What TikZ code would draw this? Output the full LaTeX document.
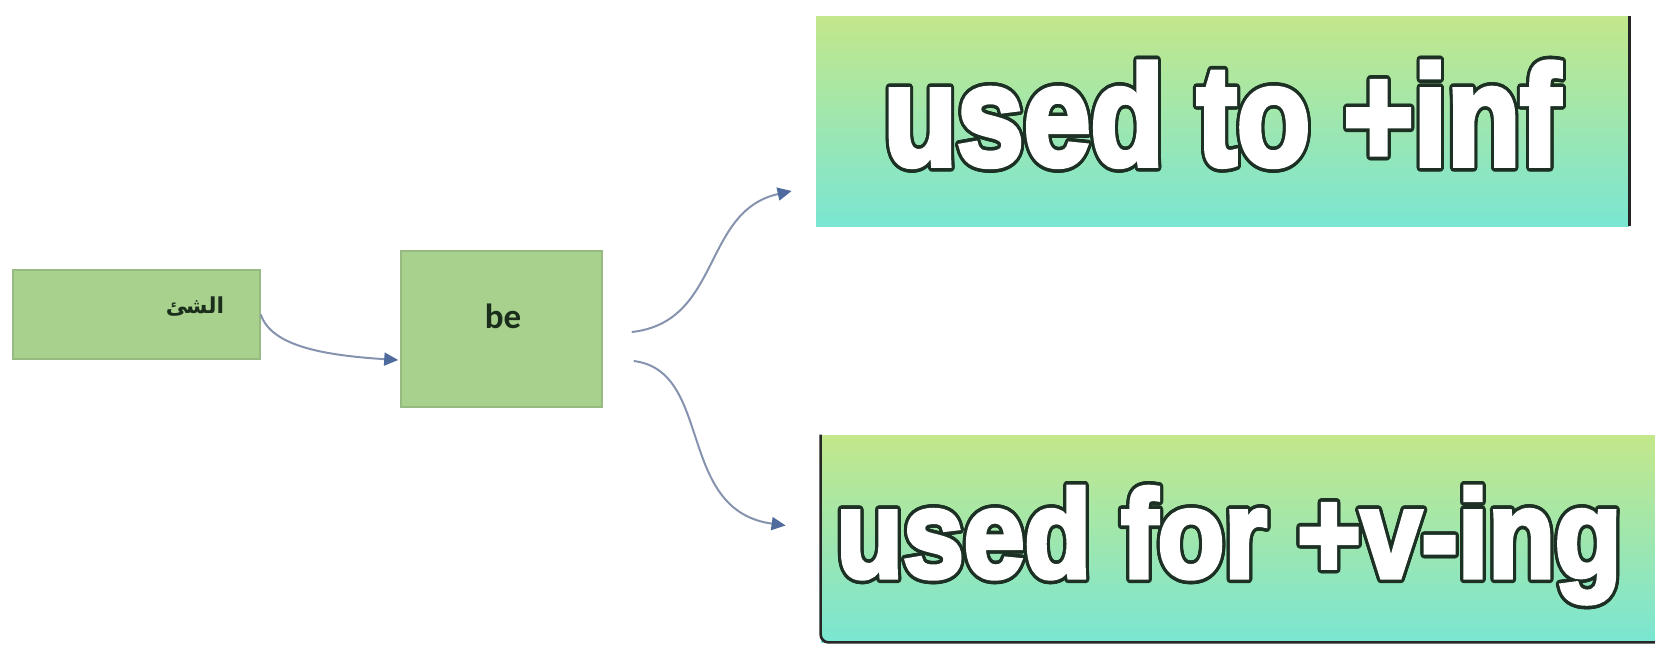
\documentclass[tikz,border=0pt]{standalone}
\usepackage{fontspec}
\usepackage{graphicx}
\usepackage{contour}
\usetikzlibrary{arrows.meta,calc}
\newfontfamily\bigfont[FakeBold=4]{Liberation Sans Bold}
\newfontfamily\arabicfont[Script=Arabic]{DejaVu Sans}
\newfontfamily\befont{Carlito}
\TeXXeTstate=1
\contournumber{20}
\contourlength{1.8pt}
\definecolor{smallfill}{HTML}{A9D18E}
\definecolor{smalledge}{HTML}{97B982}
\definecolor{bigtop}{HTML}{C3E78B}
\definecolor{bigbot}{HTML}{7AE6D2}
\definecolor{outl}{HTML}{1C3024}
\definecolor{linec}{HTML}{8693AE}
\definecolor{tipc}{HTML}{4F6A9C}
\definecolor{darktext}{HTML}{1B2E1B}
\tikzset{
  smallbox/.style={draw=smalledge, line width=0.8pt, fill=smallfill, inner sep=0pt},
  bigbox/.style={inner sep=0pt, top color=bigtop, bottom color=bigbot, draw=none},
  conn/.style={draw=linec, line width=1pt, -{Triangle[length=7pt,width=6.5pt,color=tipc,fill=tipc]}},
  edgeline/.style={draw=black!85, line width=1.3pt},
  bigtext/.style={inner sep=0pt, anchor=base, text=white}
}
\begin{document}
\begin{tikzpicture}[x=0.5pt,y=-0.5pt]
\useasboundingbox (0,0) rectangle (1655,650);
% boxes
\node[smallbox, minimum width=123.5pt, minimum height=44.5pt] (a) at (136.5,314.5) {};
\node[inner sep=0pt, text=darktext] (atext) at (195,307) {\arabicfont\bfseries\fontsize{11}{13}\selectfont\beginR الشئ\endR};
\node[smallbox, minimum width=100.5pt, minimum height=78pt] (b) at (501.5,329) {};
\node[inner sep=0pt, anchor=base, text=darktext] (btext) at (503,328) {\befont\bfseries\fontsize{17.5}{20}\selectfont be};
\node[bigbox, minimum width=406.5pt, minimum height=105pt] (t) at (1222.5,121) {};
\node[bigbox, minimum width=419.5pt, minimum height=103.5pt] (u) at (1240.5,538.5) {};
\draw[edgeline] (t.north east) -- (t.south east);
\draw[edgeline, rounded corners=4pt] (u.north west) -- (u.south west) -- (u.south east);
% big texts
\node[bigtext] (ttext) at (1222,165) {\scalebox{0.845}[1]{\bigfont\fontsize{71}{80}\selectfont\color{white}\contour{outl}{used to +inf}}};
\node[bigtext] (utext) at (1229,577) {\scalebox{0.88}[1]{\bigfont\fontsize{62}{70}\selectfont\color{white}\contour{outl}{used for +v-ing}}};
% connectors
\draw[conn] (a.east) .. controls +(10,30) and +(-80,-5) .. ($(b.west)+(-2,31)$);
\draw[conn] ($(b.east)+(29,3)$) .. controls +(90,-10) and +(-90,20) .. ($(t.west)+(-24,70)$);
\draw[conn] ($(b.east)+(31,32)$) .. controls +(80,10) and +(-110,-15) .. ($(u.west)+(-35,-13)$);
\end{tikzpicture}
\end{document}
